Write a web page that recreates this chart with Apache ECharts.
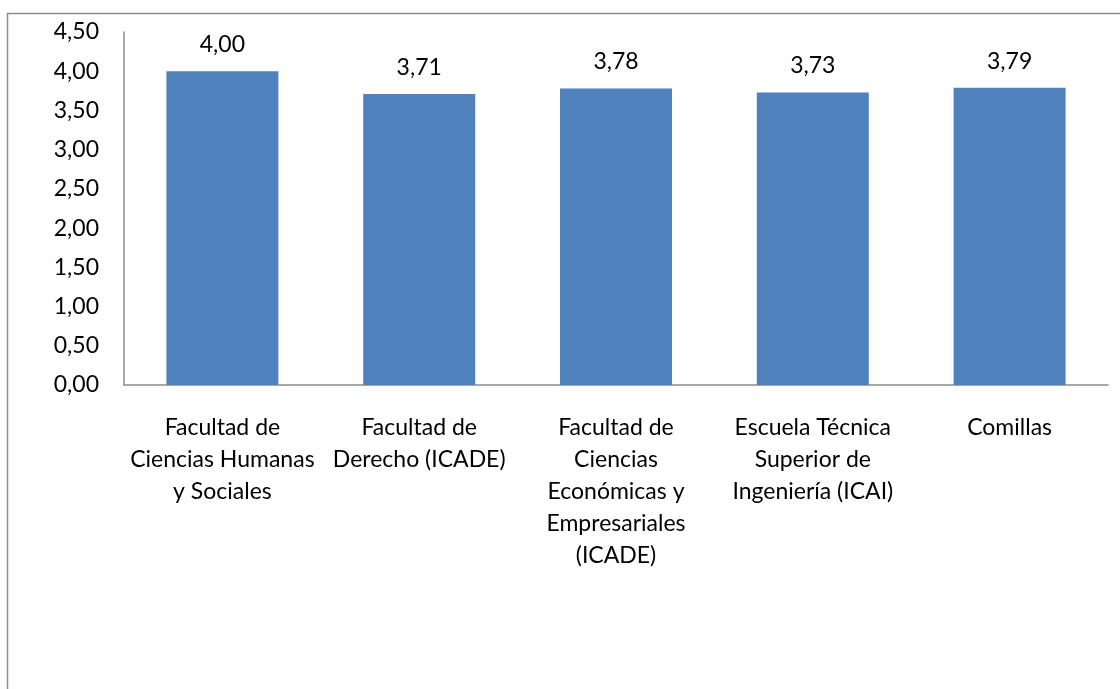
<!DOCTYPE html>
<html>
<head>
<meta charset="utf-8">
<script src="https://cdn.jsdelivr.net/npm/echarts@6/dist/echarts.min.js"></script>
<style>
html, body { margin: 0; padding: 0; background: #fff; }
#chart { width: 1120px; height: 689px; }
</style>
</head>
<body>
<div id="chart"></div>
<script>
let categories = [
    'Facultad de\nCiencias Humanas\ny Sociales',
    'Facultad de\nDerecho (ICADE)',
    'Facultad de\nCiencias\nEconómicas y\nEmpresariales\n(ICADE)',
    'Escuela Técnica\nSuperior de\nIngeniería (ICAI)',
    'Comillas'
];
let values = [4.00, 3.71, 3.78, 3.73, 3.79];

function comma(v) {
    return Number(v).toFixed(2).replace('.', ',');
}

let chart = echarts.init(document.getElementById('chart'));
let font = 'Lato, "Noto Sans", sans-serif';
let option = {
    backgroundColor: '#fff',
    animation: false,
    // 外框
    graphic: [{
        type: 'rect',
        shape: { x: 7.5, y: 13.5, width: 1300, height: 900 },
        style: { fill: 'none', stroke: '#8c8c8c', lineWidth: 1.5 },
        silent: true
    }],
    grid: {
        left: 124,
        right: 12,
        top: 32,
        bottom: 304,
        containLabel: false
    },
    xAxis: {
        type: 'category',
        data: categories,
        axisLabel: {
            interval: 0,
            margin: 27,
            color: '#000',
            fontFamily: font,
            fontSize: 23,
            lineHeight: 32,
            align: 'center'
        },
        axisTick: { show: false },
        axisLine: { lineStyle: { color: '#8c8c8c', width: 1.5 } },
        splitLine: { show: false }
    },
    yAxis: {
        type: 'value',
        min: 0,
        max: 4.5,
        interval: 0.5,
        axisLabel: {
            margin: 25,
            color: '#000',
            fontFamily: font,
            fontSize: 23,
            formatter: comma
        },
        axisLine: { show: true, lineStyle: { color: '#8c8c8c', width: 1.5 } },
        axisTick: { show: false },
        splitLine: { show: false }
    },
    series: [{
        type: 'bar',
        data: values,
        barWidth: 112,
        itemStyle: { color: '#4f81bd' },
        label: {
            show: true,
            position: 'top',
            distance: 15,
            color: '#000',
            fontFamily: font,
            fontSize: 23,
            formatter: function (p) { return comma(p.value); }
        }
    }]
};
chart.setOption(option);
</script>
</body>
</html>
